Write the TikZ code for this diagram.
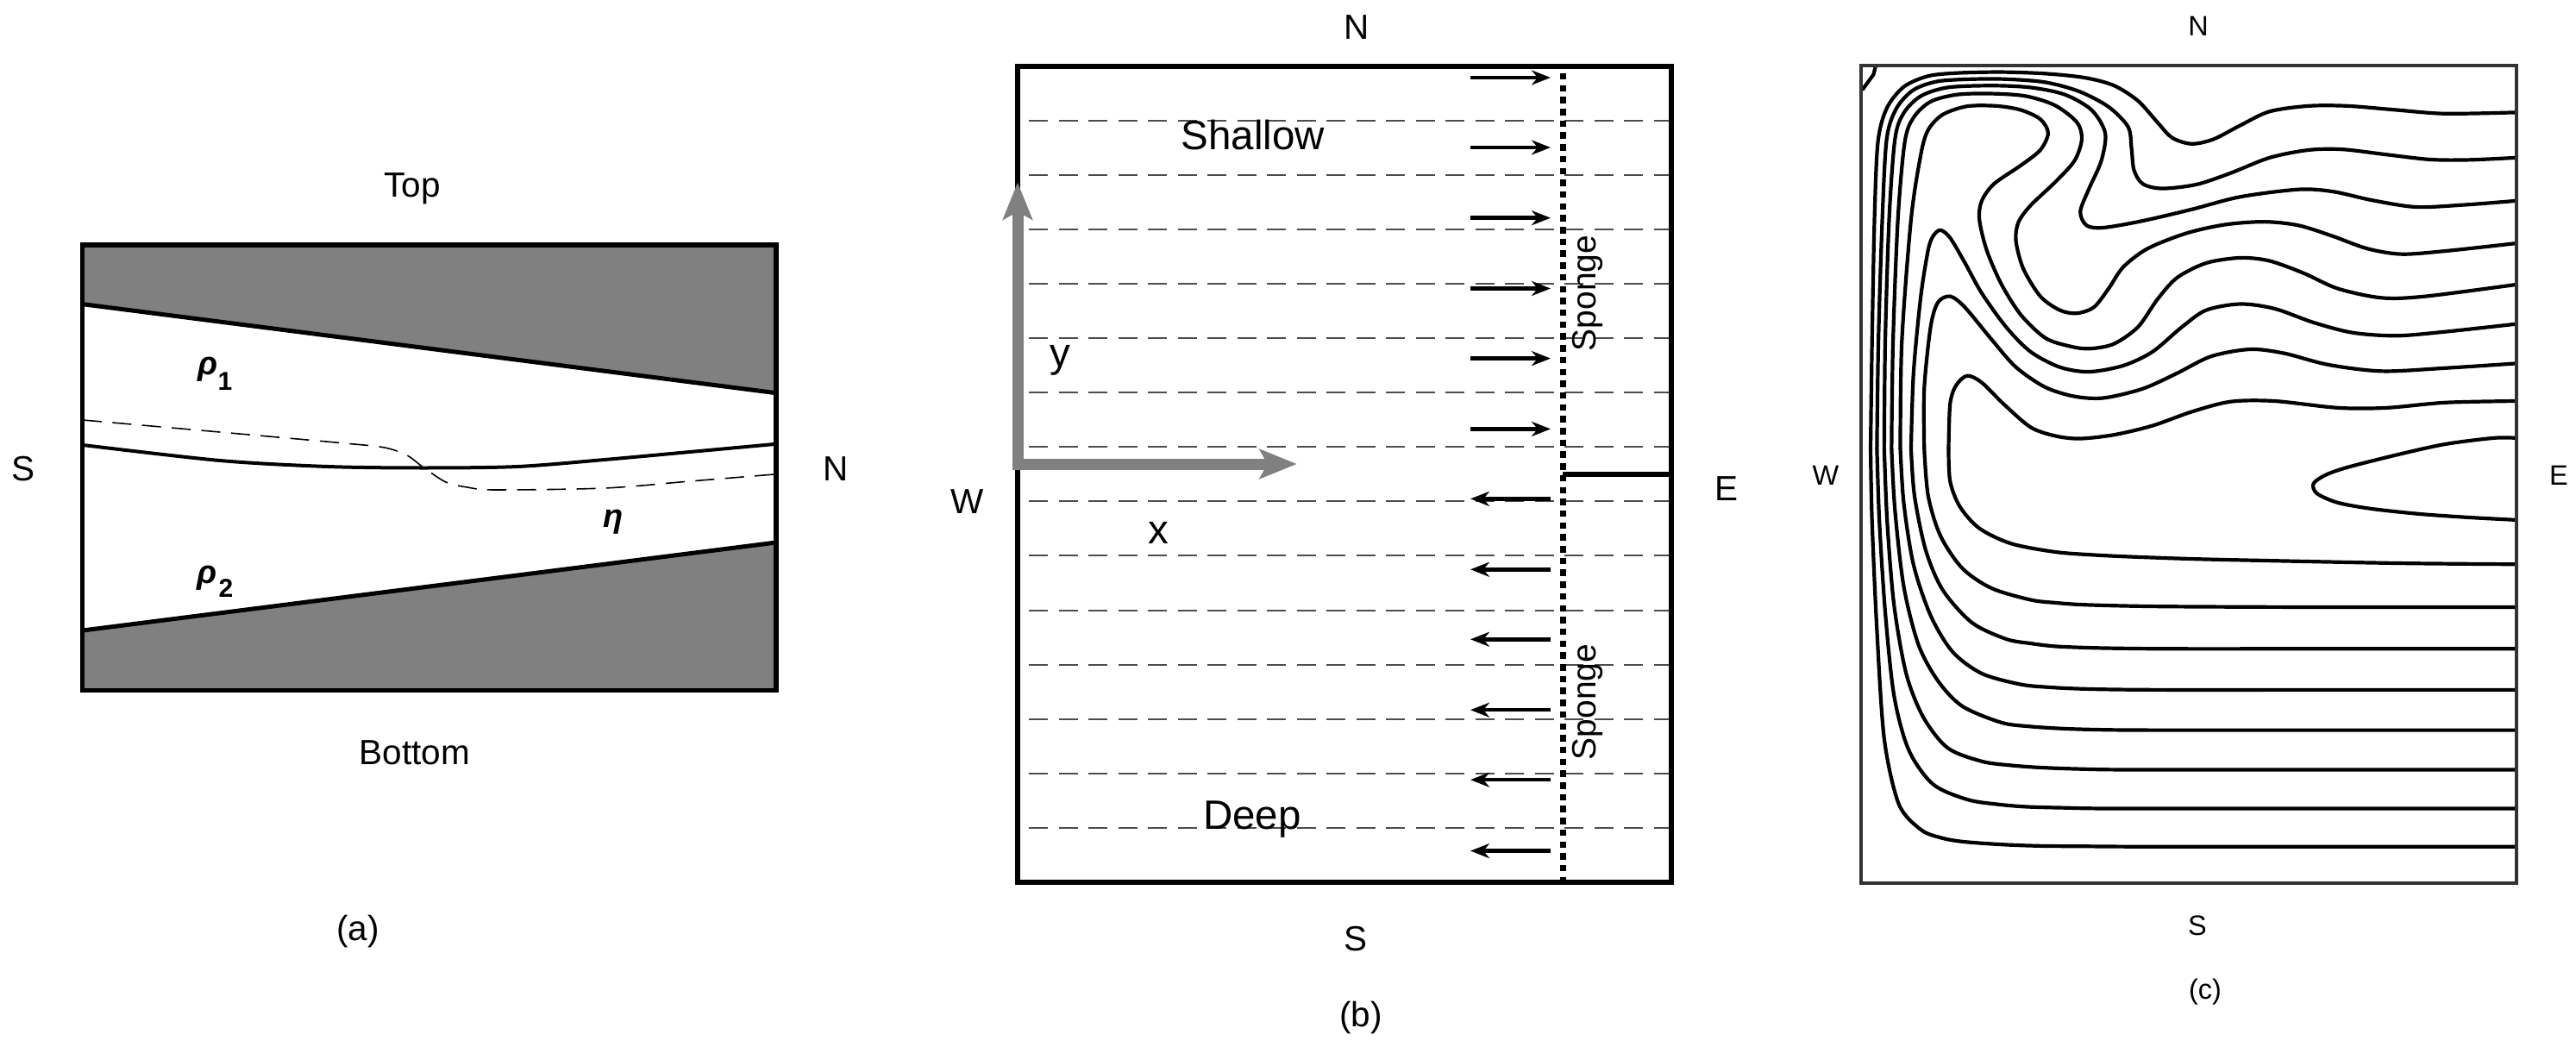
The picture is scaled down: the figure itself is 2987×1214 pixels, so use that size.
\documentclass[tikz,border=0pt]{standalone}
\usepackage{fontspec}
\setmainfont{Liberation Sans}
\usetikzlibrary{arrows.meta}
\tikzset{
  lab/.style={inner sep=0pt,outer sep=0pt,anchor=center,font=\fontsize{40.5}{46}\selectfont},
  labbig/.style={lab,font=\fontsize{47.5}{54}\selectfont},
  labsp/.style={lab,rotate=90,font=\fontsize{39}{46}\selectfont},
  labc/.style={lab,font=\fontsize{32.5}{38}\selectfont},
  labgr/.style={lab,font=\fontsize{38}{44}\selectfont\bfseries\itshape},
  labsub/.style={lab,font=\fontsize{30}{36}\selectfont\bfseries},
  frameA/.style={draw=black,line width=5.5pt,line join=miter},
  wall/.style={draw=black,line width=5pt},
  iface/.style={draw=black,line width=4pt},
  thindash/.style={draw=black,line width=1.6pt,dash pattern=on 22pt off 12.5pt},
  griddash/.style={draw=black!70,line width=2pt,dash pattern=on 22pt off 12.5pt},
  frameB/.style={draw=black,line width=6.5pt},
  flowarrow/.style={draw=black,line width=4.5pt,-{Stealth[length=22pt,width=17pt,inset=7pt]}},
  axisarrow/.style={draw=axgray,line width=13pt,-{Stealth[length=43pt,width=34pt,inset=9pt]}},
  spongeline/.style={draw=black,line width=7pt,dash pattern=on 7.5pt off 6.2pt},
  frameC/.style={draw=framegray,line width=4pt},
  contour/.style={draw=black,line width=4.2pt,line cap=round,line join=round},
}
\definecolor{axgray}{HTML}{808080}
\definecolor{framegray}{HTML}{333333}
\begin{document}
\begin{tikzpicture}[x=1pt,y=-1pt]
\useasboundingbox (0,0) rectangle (2987,1214);
% ---------- panel (a)
\fill[axgray] (96,284) -- (900,284) -- (900,455.7) -- (96,352.7) -- cycle;
\fill[axgray] (96,800.5) -- (900,800.5) -- (900,629) -- (96,731) -- cycle;
\draw[wall] (96,352.7) -- (900,455.7);
\draw[wall] (96,731) -- (900,629);
\draw[iface] plot[smooth] coordinates {(96,516) (255,534) (380,541) (491,542.5) (600,541) (701,533) (800,524) (898,515)};
\draw[thindash] plot[smooth] coordinates {(96,487) (255,501) (400,514) (446,519) (472,528) (491,542) (517,559) (542,565) (574,568) (701,566) (800,558) (898,550)};
\draw[frameA] (95.7,284) rectangle (900,800.5);
\node[lab] (atop) at (478,219) {Top};
\node[lab] (abot) at (481,873) {Bottom};
\node[lab] (as) at (27,544) {S};
\node[lab] (an) at (969,544) {N};
\node[lab] (acap) at (415,1080) {(a)};
\node[labgr] (rho1) at (241,428) {ρ};
\node[labsub] (rho1s) at (261,442) {1};
\node[labgr] (rho2) at (240,670) {ρ};
\node[labsub] (rho2s) at (262,682) {2};
\node[labgr] (eta) at (711,605) {η};
% ---------- panel (b)
\foreach \y in {140,203,266,329,392,455,518,581,644,708,771,834,897,960}
  \draw[griddash] (1193,\y) -- (1935,\y);
\draw[frameB] (1180,77) rectangle (1938,1023);
\draw[spongeline] (1812,85) -- (1812,1020);
\draw[draw=black,line width=5.5pt] (1812,550) -- (1938,550);
\foreach \i/\y in {1/90,2/171,3/252.7,4/334.5,5/415.6,6/497.4}{
  \coordinate (rs\i) at (1705,\y);
  \coordinate (re\i) at (1798,\y);
  \draw[flowarrow] (rs\i) -- (re\i);
}
\foreach \i/\y in {1/578.4,2/660.3,3/741.3,4/823.2,5/904.2,6/986.6}{
  \coordinate (ls\i) at (1798,\y);
  \coordinate (le\i) at (1705,\y);
  \draw[flowarrow] (ls\i) -- (le\i);
}
\coordinate (orgy) at (1180,545);
\coordinate (orgx) at (1174,538);
\coordinate (tipy) at (1180,211.5);
\coordinate (tipx) at (1503.7,538);
\draw[axisarrow] (orgy) -- (tipy);
\draw[axisarrow] (orgx) -- (tipx);
\node[lab] (bn) at (1573,31.6) {N};
\node[lab] (bs) at (1572,1089) {S};
\node[lab] (bw) at (1122,582) {W};
\node[lab] (be) at (2002,567) {E};
\node[lab] (bcap) at (1578,1179.6) {(b)};
\node[labbig] (shallow) at (1453,157) {Shallow};
\node[labbig] (deep) at (1452,950) {Deep};
\node[labbig] (ylab) at (1229.5,418) {y};
\node[labbig] (xlab) at (1343.6,618) {x};
\node[labsp] (sp1) at (1841,340) {Sponge};
\node[labsp] (sp2) at (1841,814) {Sponge};
% ---------- panel (c)
\begin{scope}[x=0.5656pt,y=-0.35714pt,shift={(2100pt,-40pt)}]
\draw[contour,line cap=butt] (105,180) -- (128,130) -- (132,105);
\draw[contour] plot[smooth] coordinates {(122,1344)(125,1000)(130,600)(137,350)(155,240)(190,170)(240,135)(300,125)(390,122)(480,127)(560,140)(620,165)(670,215)(710,285)(740,335)(780,355)(825,340)(880,295)(940,250)(1020,232)(1100,232)(1200,245)(1300,257)(1445,253)};
\draw[contour] plot[smooth] coordinates {(135,1344)(138,1000)(146,600)(155,340)(175,240)(210,180)(260,152)(330,145)(400,145)(480,155)(550,185)(610,235)(650,300)(657,370)(662,440)(680,485)(720,500)(790,487)(860,450)(940,400)(1020,375)(1090,373)(1180,390)(1270,406)(1350,407)(1445,400)};
\draw[contour] plot[smooth] coordinates {(150,1344)(152,1000)(160,600)(172,340)(190,255)(225,200)(280,172)(370,166)(450,172)(520,195)(575,245)(603,320)(595,410)(570,500)(552,575)(565,620)(600,627)(680,605)(780,568)(880,527)(1000,503)(1070,510)(1150,538)(1240,560)(1340,553)(1445,540)};
\draw[contour] plot[smooth] coordinates {(165,1344)(168,1000)(178,600)(192,350)(210,270)(245,218)(300,195)(370,192)(440,200)(500,230)(545,285)(555,340)(540,410)(500,480)(450,555)(425,610)(420,670)(435,760)(470,850)(510,895)(545,905)(580,885)(610,825)(640,755)(690,695)(770,645)(850,617)(930,608)(1000,620)(1070,655)(1140,695)(1210,713)(1300,703)(1445,678)};
\draw[contour] plot[smooth] coordinates {(183,1344)(186,1000)(205,600)(225,390)(240,310)(270,260)(320,233)(380,232)(430,245)(470,275)(486,320)(470,375)(430,425)(375,485)(350,540)(345,600)(360,700)(390,810)(430,910)(480,985)(530,1012)(570,1020)(620,1005)(670,950)(710,860)(750,790)(810,742)(880,725)(940,735)(1010,775)(1080,825)(1170,855)(1260,850)(1445,812)};
\draw[contour] plot[smooth] coordinates {(205,1344)(210,1100)(225,850)(240,700)(250,655)(265,635)(285,660)(315,740)(350,840)(400,950)(450,1030)(510,1080)(570,1095)(640,1075)(700,1030)(760,950)(810,895)(880,875)(950,890)(1030,935)(1110,968)(1200,978)(1300,965)(1445,940)};
\draw[contour] plot[smooth] coordinates {(232,1344)(232,1150)(245,950)(260,870)(285,850)(315,885)(370,990)(420,1080)(480,1145)(540,1175)(600,1180)(680,1150)(750,1100)(820,1045)(900,1022)(970,1035)(1060,1072)(1170,1093)(1300,1083)(1445,1068)};
\draw[contour] plot[smooth] coordinates {(282,1344)(285,1200)(297,1140)(320,1108)(350,1130)(395,1200)(450,1275)(500,1303)(550,1312)(620,1300)(700,1270)(780,1225)(860,1192)(950,1190)(1080,1212)(1180,1212)(1300,1195)(1445,1190)};
\draw[contour] plot[smooth] coordinates {(1445,1310)(1400,1310)(1300,1330)(1200,1365)(1100,1405)(1055,1430)(1030,1458)(1037,1490)(1080,1520)(1150,1540)(1250,1557)(1350,1568)(1445,1576)};
\end{scope}
\begin{scope}[x=0.5656pt,y=-0.42088pt,shift={(2100pt,-520pt)}]
\draw[contour] plot[smooth] coordinates {(282,0)(285,90)(305,160)(345,220)(410,262)(500,285)(575,293)(650,298)(775,304)(900,308)(1200,316)(1445,319)};
\draw[contour] plot[smooth] coordinates {(232,0)(240,130)(265,240)(310,330)(370,385)(450,417)(500,425)(550,430)(620,433)(700,435)(800,436)(1000,437)(1445,437)};
\draw[contour] plot[smooth] coordinates {(205,0)(212,130)(235,280)(270,390)(330,480)(400,525)(450,537)(500,545)(570,549)(650,551)(750,552)(1000,552)(1445,552)};
\draw[contour] plot[smooth] coordinates {(183,0)(190,150)(210,320)(245,460)(290,560)(350,620)(430,650)(490,658)(550,662)(620,664)(720,665)(1000,665)(1445,665)};
\draw[contour] plot[smooth] coordinates {(165,0)(172,170)(190,380)(220,540)(260,640)(310,710)(390,755)(450,766)(520,772)(600,775)(700,776)(1000,776)(1445,776)};
\draw[contour] plot[smooth] coordinates {(150,0)(156,200)(170,430)(195,620)(230,740)(280,825)(350,862)(410,873)(470,879)(550,883)(650,885)(1000,885)(1445,885)};
\draw[contour] plot[smooth] coordinates {(135,0)(140,200)(152,450)(170,680)(200,830)(250,925)(320,967)(380,980)(440,987)(520,990)(620,992)(1000,992)(1445,992)};
\draw[contour] plot[smooth] coordinates {(122,0)(125,200)(135,500)(150,800)(180,980)(225,1050)(265,1072)(310,1083)(390,1091)(470,1095)(560,1096)(680,1097)(1000,1097)(1445,1097)};
\end{scope}
\draw[frameC] (2158,75.7) rectangle (2918,1024);
\node[labc] (cn) at (2549,30) {N};
\node[labc] (cs) at (2548,1073.5) {S};
\node[labc] (cw) at (2117,551) {W};
\node[labc] (ce) at (2967,551) {E};
\node[labc] (ccap) at (2557,1150) {(c)};
\end{tikzpicture}
\end{document}
